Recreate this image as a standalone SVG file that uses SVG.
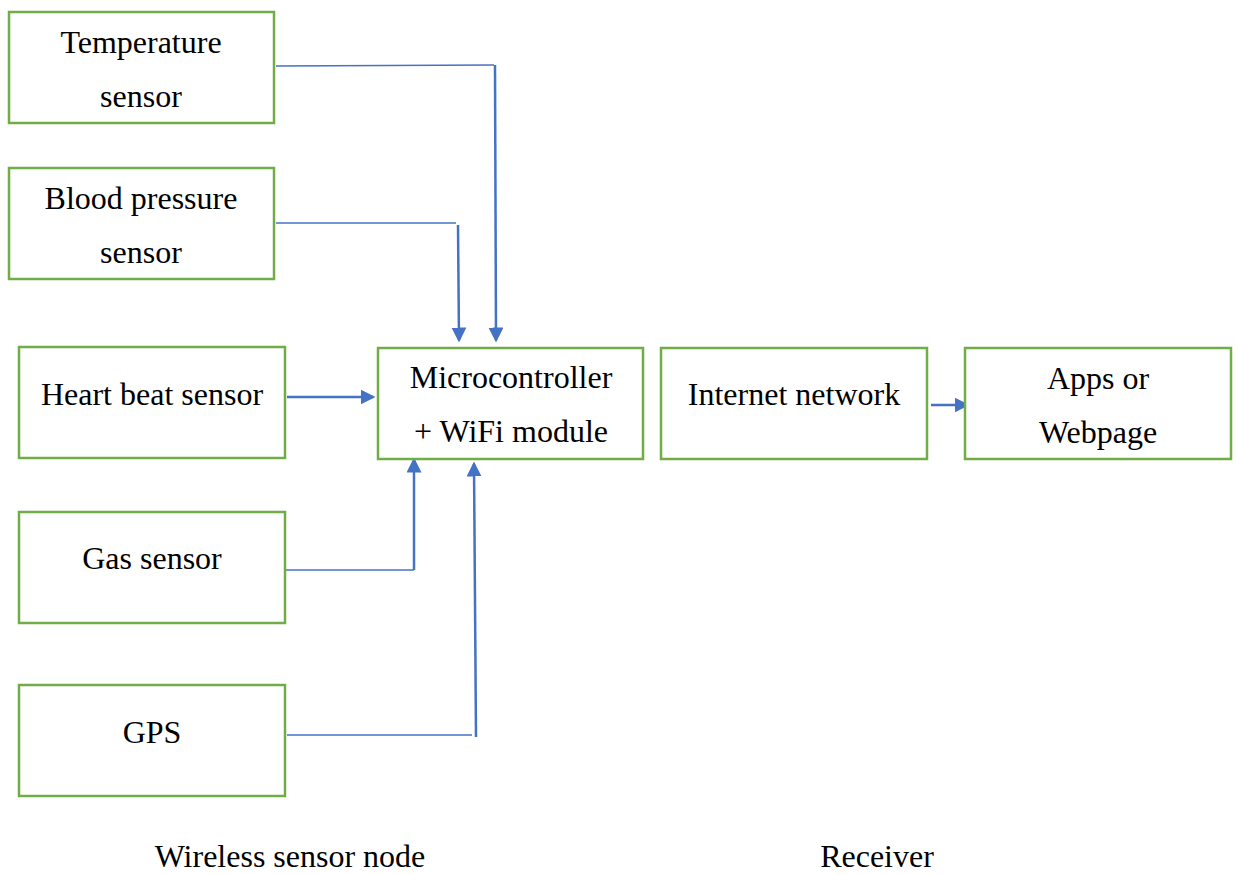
<svg xmlns="http://www.w3.org/2000/svg" width="1239" height="874" viewBox="0 0 1239 874">
<style>
.box{fill:#fff;stroke:#70AD47;stroke-width:2.5}
.t{font-family:"Liberation Serif","Times New Roman",serif;font-size:32px;fill:#000;text-anchor:middle}
.thin{stroke:#4472C4;stroke-width:1.5;fill:none}
.thick{stroke:#4472C4;stroke-width:2.5;fill:none}
</style>
<defs>
<marker id="ah" markerWidth="6" markerHeight="6" refX="5" refY="3" orient="auto" markerUnits="strokeWidth">
<path d="M0,0 L6,3 L0,6 Z" fill="#4472C4"/>
</marker>
</defs>
<rect width="1239" height="874" fill="#fff"/>
<g id="connectors">
<polyline class="thin" points="276,66 494,65"/>
<line class="thick" x1="495" y1="65" x2="496" y2="340" marker-end="url(#ah)"/>
<polyline class="thin" points="276,223 456,223"/>
<line class="thick" x1="458" y1="225" x2="459" y2="340" marker-end="url(#ah)"/>
<line class="thick" x1="287" y1="397" x2="373" y2="397" marker-end="url(#ah)"/>
<polyline class="thin" points="286,570 414,570"/>
<line class="thick" x1="414" y1="570" x2="414" y2="460" marker-end="url(#ah)"/>
<polyline class="thin" points="287,735 472,735"/>
<line class="thick" x1="476" y1="737" x2="474" y2="464" marker-end="url(#ah)"/>
<line class="thick" x1="931" y1="405" x2="967" y2="405" marker-end="url(#ah)"/>
</g>
<g id="temperature">
<rect class="box" x="9" y="12" width="265" height="111"/>
<text class="t" x="141" y="53">Temperature</text>
<text class="t" x="141" y="107">sensor</text>
</g>
<g id="blood-pressure">
<rect class="box" x="9" y="168" width="265" height="111"/>
<text class="t" x="141" y="209">Blood pressure</text>
<text class="t" x="141" y="263">sensor</text>
</g>
<g id="heart-beat">
<rect class="box" x="19" y="347" width="266" height="111"/>
<text class="t" x="152" y="405">Heart beat sensor</text>
</g>
<g id="gas">
<rect class="box" x="19" y="512" width="266" height="111"/>
<text class="t" x="152" y="569">Gas sensor</text>
</g>
<g id="gps">
<rect class="box" x="19" y="685" width="266" height="111"/>
<text class="t" x="152" y="743">GPS</text>
</g>
<g id="microcontroller">
<rect class="box" x="378" y="348" width="265" height="111"/>
<text class="t" x="511" y="388">Microcontroller</text>
<text class="t" x="511" y="442">+ WiFi module</text>
</g>
<g id="internet">
<rect class="box" x="661" y="348" width="266" height="111"/>
<text class="t" x="794" y="405">Internet network</text>
</g>
<g id="apps">
<rect class="box" x="965" y="348" width="266" height="111"/>
<text class="t" x="1098" y="389">Apps or</text>
<text class="t" x="1098" y="443">Webpage</text>
</g>
<g id="labels">
<text class="t" x="290" y="867">Wireless sensor node</text>
<text class="t" x="877" y="867">Receiver</text>
</g>
</svg>
